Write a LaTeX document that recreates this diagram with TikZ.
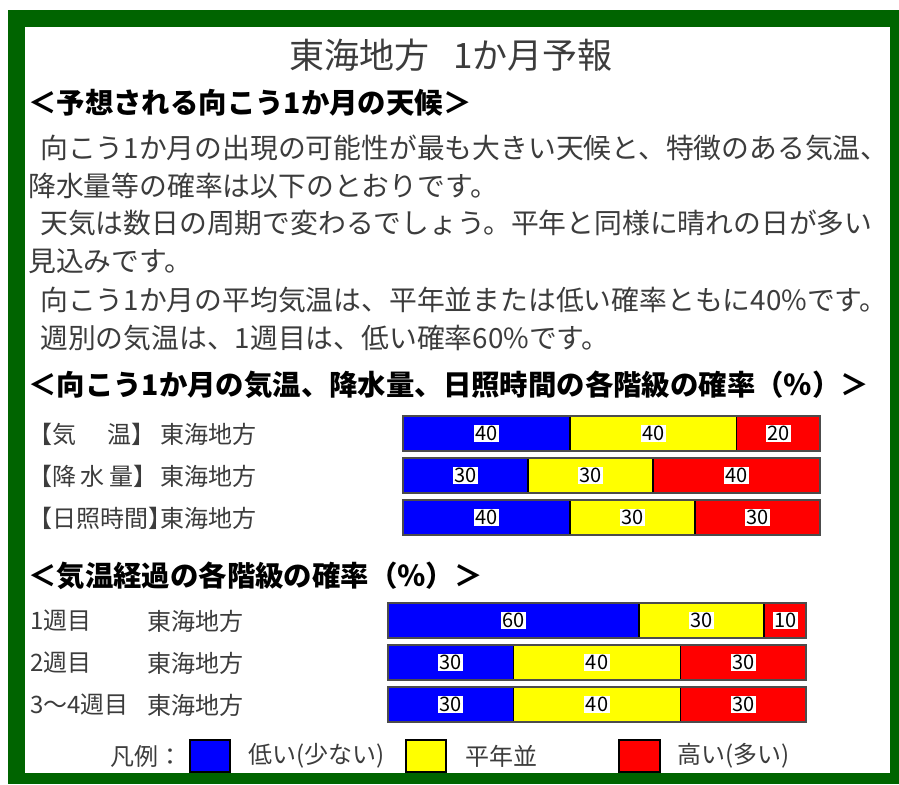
\documentclass[tikz,border=0pt]{standalone}
\usepackage{fontspec}
\setmainfont{Noto Sans CJK JP}
\definecolor{frameg}{RGB}{0,100,0}
\definecolor{lowc}{RGB}{0,0,255}
\definecolor{normc}{RGB}{255,255,0}
\definecolor{highc}{RGB}{255,0,0}
\definecolor{txt}{RGB}{60,60,60}
\tikzset{
  title/.style={font=\fontsize{35}{35}\selectfont, text=txt, inner sep=0pt},
  head/.style={font=\fontsize{28.4}{28.4}\selectfont\bfseries, text=black, anchor=west, inner sep=0pt},
  body/.style={font=\fontsize{27.8}{27.8}\selectfont, text=txt, anchor=west, inner sep=0pt},
  lab/.style={font=\fontsize{24}{24}\selectfont, text=txt, anchor=west, inner sep=0pt},
  num/.style={font=\fontsize{20}{20}\selectfont, text=black, fill=white, inner sep=1.5pt},
  seg/.style={draw=black, line width=1.5pt},
  barframe/.style={draw=black!70, line width=1.2pt},
  legbox/.style={draw=black, line width=1.5pt},
}
\newcommand\probbar[7]{%
  \pgfmathsetmacro\xa{#2+(#3-#2)/100*#6}%
  \pgfmathsetmacro\xb{#2+(#3-#2)/100*(#6+#7)}%
  \pgfmathtruncatemacro\hival{100-#6-#7}%
  \pgfmathsetmacro\ym{(#4+#5)/2}%
  \filldraw[seg, fill=lowc] (#2,#4) rectangle (\xa,#5);
  \filldraw[seg, fill=normc] (\xa,#4) rectangle (\xb,#5);
  \filldraw[seg, fill=highc] (\xb,#4) rectangle (#3,#5);
  \draw[barframe] (#2,#4) rectangle (#3,#5);
  \node[num] (#1-low) at ({(#2+\xa)/2},\ym) {#6};
  \node[num] (#1-norm) at ({(\xa+\xb)/2},\ym) {#7};
  \node[num] (#1-high) at ({(\xb+#3)/2},\ym) {\hival};
}
\begin{document}
\begin{tikzpicture}[x=1pt,y=-1pt]
\useasboundingbox (0,0) rectangle (899,784);
\fill[white] (0,0) rectangle (899,784);
\fill[frameg] (8,10) rectangle (899,784);
\fill[white] (25,27) rectangle (890,773);

\node[title] (title) at (451,55) {東海地方\hspace{0.7em}1か月予報};
\node[head] (h1) at (28,103) {＜予想される向こう1か月の天候＞};
\node[body] (b1) at (40,148) {向こう1か月の出現の可能性が最も大きい天候と、特徴のある気温、};
\node[body] (b2) at (28,186) {降水量等の確率は以下のとおりです。};
\node[body] (b3) at (40,223) {天気は数日の周期で変わるでしょう。平年と同様に晴れの日が多い};
\node[body] (b4) at (28,261) {見込みです。};
\node[body] (b5) at (40,300) {向こう1か月の平均気温は、平年並または低い確率ともに40\%です。};
\node[body] (b6) at (40,338) {週別の気温は、1週目は、低い確率60\%です。};

\node[head] (h2) at (28,385) {＜向こう1か月の気温、降水量、日照時間の各階級の確率（％）＞};
\node[lab] (r1a) at (28,434) {【気\hspace{1.3em}温】};
\node[lab] (r1b) at (160,434) {東海地方};
\node[lab] (r2a) at (28,476) {【降\hspace{0.2em}水\hspace{0.2em}量】};
\node[lab] (r2b) at (160,476) {東海地方};
\node[lab] (r3a) at (28,518) {【日照時間】};
\node[lab] (r3b) at (160,518) {東海地方};
\probbar{t}{403}{820}{416}{451}{40}{40}
\probbar{p}{403}{820}{458}{493}{30}{30}
\probbar{s}{403}{820}{500}{535}{40}{30}

\node[head] (h3) at (28,576) {＜気温経過の各階級の確率（％）＞};
\node[lab] (w1a) at (30,621) {1週目};
\node[lab] (w1b) at (147,621) {東海地方};
\node[lab] (w2a) at (30,663) {2週目};
\node[lab] (w2b) at (147,663) {東海地方};
\node[lab] (w3a) at (30,705) {3〜4週目};
\node[lab] (w3b) at (147,705) {東海地方};
\probbar{wa}{388}{806}{603}{638}{60}{30}
\probbar{wb}{388}{806}{645}{680}{30}{40}
\probbar{wc}{388}{806}{687}{722}{30}{40}

\node[lab] (leg) at (110,756) {凡例：};
\filldraw[legbox, fill=lowc] (190,740) rectangle (230,772);
\node[lab] (legl) at (248,756) {低い(少ない)};
\filldraw[legbox, fill=normc] (406,740) rectangle (446,772);
\node[lab] (legn) at (465,756) {平年並};
\filldraw[legbox, fill=highc] (619,740) rectangle (660,772);
\node[lab] (legh) at (677,756) {高い(多い)};
\end{tikzpicture}
\end{document}
